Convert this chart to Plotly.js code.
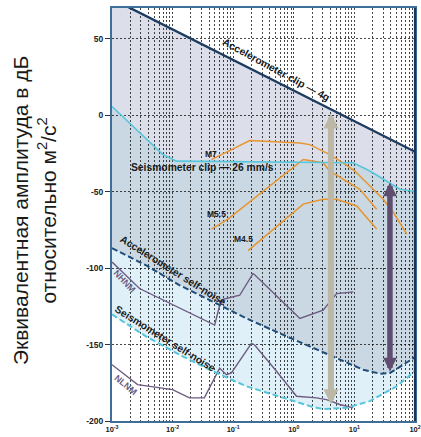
<!DOCTYPE html>
<html><head><meta charset="utf-8">
<script src="https://cdn.plot.ly/plotly-3.0.1.min.js"></script>
<style>html,body{margin:0;padding:0;background:#fff;}#chart{width:421px;height:437px;}</style>
</head><body><div id="chart"></div>
<script>
// Frequency (Hz) / level (dB rel. m^2/s^2)
const accClipX = [0.001, 100];
const accClipY = [76, -24];
const seisClipX = [0.001, 0.00195, 0.00367, 0.00692, 0.0115, 9.55, 18.0, 34.0, 56.5, 100];
const seisClipY = [5.6, -5.2, -16, -25.8, -30.1, -31.2, -36.6, -43.1, -48.5, -50];
const accNoiseX = [0.001, 0.00367, 0.0131, 0.0463, 0.165, 0.587, 2.08, 7.43, 14.0, 26.4, 38.6, 64.1, 100];
const accNoiseY = [-87.0, -98.3, -111.3, -122.1, -132.9, -142.7, -152.4, -162.1, -166.5, -169.1, -168.6, -163.2, -158.2];
const seisNoiseX = [0.001, 0.00367, 0.0131, 0.0463, 0.165, 0.587, 2.08, 3.05, 7.43, 18.0, 49.9, 100];
const seisNoiseY = [-130.3, -144.8, -156.8, -167.5, -177.3, -184.3, -190.9, -192.2, -191.4, -187, -177.3, -167.5];
const nhnmX = [0.001, 0.00285, 0.0494, 0.0598, 0.0678, 0.128, 0.212, 0.226, 1.26, 3.05, 5.08, 9.55];
const nhnmY = [-96, -113.4, -137.3, -124.3, -120.5, -117.8, -103.7, -104.4, -133, -127.5, -116.7, -115.6];
const nlnmX = [0.001, 0.00264, 0.01, 0.0189, 0.0334, 0.0464, 0.0598, 0.0772, 0.0934, 0.2, 0.226, 0.518, 1.11, 2.37, 3.47, 5.75, 9.55];
const nlnmY = [-163.2, -176.2, -179.5, -184.9, -184.9, -174, -165.4, -169.7, -168.6, -149.2, -150.3, -167.5, -183.8, -184.9, -186, -189.2, -191.4];
const m7X = [0.0437, 0.1875, 1.256, 1.84, 3.93, 6.53, 10.2, 18.0, 29.9, 43.8, 72.9];
const m7Y = [-29.1, -16.7, -18.2, -19.3, -25.8, -31.2, -36.6, -46.4, -55, -63.6, -77.7];
const m55X = [0.0437, 0.082, 1.43, 3.05, 3.93, 6.53, 12.3, 23.3];
const m55Y = [-74.5, -68, -29, -31.2, -36.6, -42, -48.5, -61.5];
const m45X = [0.176, 1.43, 3.05, 5.08, 10.9, 23.3];
const m45Y = [-88.6, -58.2, -55, -55, -59.4, -74.5];
// arrows: [frequency, top level, bottom level]
const grayArrow = [4.1, 1, -190];
const purpleArrow = [38.6, -44, -168.6];
const yTicks = [-200, -150, -100, -50, 0, 50];
const yTickText = ['-200', '-150', '-100', '-50', '0', '50'];
const xTicks = [0.001, 0.01, 0.1, 1, 10, 100];
const xTickText = ['10<sup>-3</sup>', '10<sup>-2</sup>', '10<sup>-1</sup>', '10<sup>0</sup>', '10<sup>1</sup>', '10<sup>2</sup>'];
const xMinorMult = [2, 3, 4, 5, 6, 7, 8, 9];
const labels = [
  {t: 'Accelerometer clip — 4g', lx: -0.30, y: 29.5, a: 28.6, c: '#1a1a1a', s: 10.3},
  {t: 'Seismometer clip — 26 mm/s', lx: -1.51, y: -34, a: 0, c: '#1a1a1a', s: 10.3},
  {t: 'Accelerometer self-noise', lx: -1.99, y: -101.5, a: 32, c: '#1a1a1a', s: 10.3},
  {t: 'Seismometer self-noise', lx: -2.13, y: -146.3, a: 31.8, c: '#1a1a1a', s: 10.3},
  {t: 'NHNM', lx: -2.80, y: -108.6, a: 47, c: '#6d5b80', s: 9},
  {t: 'NLNM', lx: -2.77, y: -176.2, a: 40, c: '#6d5b80', s: 9},
  {t: 'M7', lx: -1.37, y: -25.3, a: 0, c: '#1a1a1a', s: 8.5},
  {t: 'M5.5', lx: -1.27, y: -64.5, a: 0, c: '#1a1a1a', s: 8.5},
  {t: 'M4.5', lx: -0.83, y: -81, a: 0, c: '#1a1a1a', s: 8.5}
];

const xGrid = xTicks.slice();
xTicks.slice(0, -1).forEach(d => xMinorMult.forEach(m => xGrid.push(d * m)));

const cLav = '#dcdee9', cOver = '#c9d8e2', cCyanL = '#dff0f8';
const navy = '#1c3c60', cyan = '#55c6dc', orange = '#e8952e', purple = '#6d5b80';

function fillTrace(x, y, fill, color) {
  return {x, y, type: 'scatter', mode: 'lines', line: {width: 0, color: 'rgba(0,0,0,0)'}, fill: fill, fillcolor: color, hoverinfo: 'skip', showlegend: false};
}
function lineTrace(x, y, color, width, dash) {
  return {x, y, xaxis: 'x2', yaxis: 'y2', type: 'scatter', mode: 'lines', line: {color, width, dash: dash || 'solid'}, showlegend: false};
}
const traces = [
  fillTrace(accClipX, accClipY, 'none', cLav),
  fillTrace(seisClipX, seisClipY, 'tonexty', cLav),
  fillTrace(accNoiseX, accNoiseY, 'tonexty', cOver),
  fillTrace(seisNoiseX, seisNoiseY, 'tonexty', cCyanL),
  lineTrace(nhnmX, nhnmY, purple, 1.4),
  lineTrace(nlnmX, nlnmY, purple, 1.4),
  lineTrace(m7X, m7Y, orange, 1.5),
  lineTrace(m55X, m55Y, orange, 1.5),
  lineTrace(m45X, m45Y, orange, 1.5),
  lineTrace(accClipX, accClipY, navy, 2.4),
  lineTrace(seisClipX, seisClipY, cyan, 1.6),
  lineTrace(accNoiseX, accNoiseY, '#1f4d7a', 2, '6px,3px'),
  lineTrace(seisNoiseX, seisNoiseY, cyan, 2, '6px,3px')
];

const ann = labels.map(l => ({
  x: l.lx, y: l.y, xref: 'x', yref: 'y', text: '<b>' + l.t + '</b>', showarrow: false,
  textangle: l.a, font: {family: 'Liberation Sans, Arial, sans-serif', size: l.s, color: l.c},
  xanchor: 'center', yanchor: 'middle'
}));
function arrowAnn(a, color, w) {
  const lx = Math.log10(a[0]);
  return {x: lx, y: a[1], ax: lx, ay: a[2], xref: 'x', yref: 'y', axref: 'x', ayref: 'y',
    text: '', showarrow: true, arrowhead: 2, arrowside: 'end+start', arrowsize: 0.5,
    arrowwidth: w, arrowcolor: color, standoff: 0, startstandoff: 0};
}
ann.push(arrowAnn(grayArrow, '#bdb7a6', 6));
ann.push(arrowAnn(purpleArrow, '#5f4d70', 5.5));
ann.push({
  xref: 'paper', yref: 'paper', x: -0.255, y: 0.51, xanchor: 'center', yanchor: 'middle',
  text: 'Эквивалентная амплитуда в дБ<br>относительно м<sup>2</sup>/с<sup>2</sup>',
  textangle: -90, showarrow: false,
  font: {family: 'Liberation Sans, Arial, sans-serif', size: 21, color: '#1a1a1a'}
});

const gridStyle = {showgrid: true, gridcolor: 'rgba(0,0,0,0.72)', griddash: '1.5px,2.5px', gridwidth: 1};
const layout = {
  width: 421, height: 437,
  margin: {l: 112, r: 6, t: 8, b: 16, pad: 0},
  paper_bgcolor: '#ffffff', plot_bgcolor: 'rgba(0,0,0,0)',
  showlegend: false,
  xaxis: {
    type: 'log', range: [-3, 2], domain: [0, 1], tickmode: 'array', tickvals: xTicks, ticktext: xTickText,
    showgrid: false, showline: true, linecolor: '#3f6f98', linewidth: 2, mirror: true,
    ticks: '', zeroline: false,
    tickfont: {family: 'Liberation Sans, Arial, sans-serif', size: 7.5, color: '#222', weight: 'bold'}
  },
  yaxis: {
    range: [-200, 70], domain: [0, 1], tickmode: 'array', tickvals: yTicks, ticktext: yTickText,
    showgrid: false, showline: true, linecolor: '#3f6f98', linewidth: 2, mirror: true,
    ticks: 'outside', ticklen: 5, tickcolor: '#333', tickwidth: 1, zeroline: false,
    tickfont: {family: 'Liberation Sans, Arial, sans-serif', size: 8.5, color: '#222', weight: 'bold'}
  },
  xaxis2: Object.assign({type: 'log', range: [-3, 2], domain: [0, 1], anchor: 'y2', tickmode: 'array', tickvals: xGrid,
    showticklabels: false, ticks: '', showline: false, zeroline: false}, gridStyle),
  yaxis2: Object.assign({range: [-200, 70], domain: [0, 1], anchor: 'x2', tickmode: 'array', tickvals: yTicks,
    showticklabels: false, ticks: '', showline: false, zeroline: false}, gridStyle),
  shapes: [
    {type: 'line', xref: 'paper', yref: 'paper', x0: 1, x1: 1, y0: 0, y1: 1, line: {color: '#1c3556', width: 2.2}}
  ],
  annotations: ann
};
Plotly.newPlot('chart', traces, layout, {staticPlot: true, displayModeBar: false});
</script></body></html>
